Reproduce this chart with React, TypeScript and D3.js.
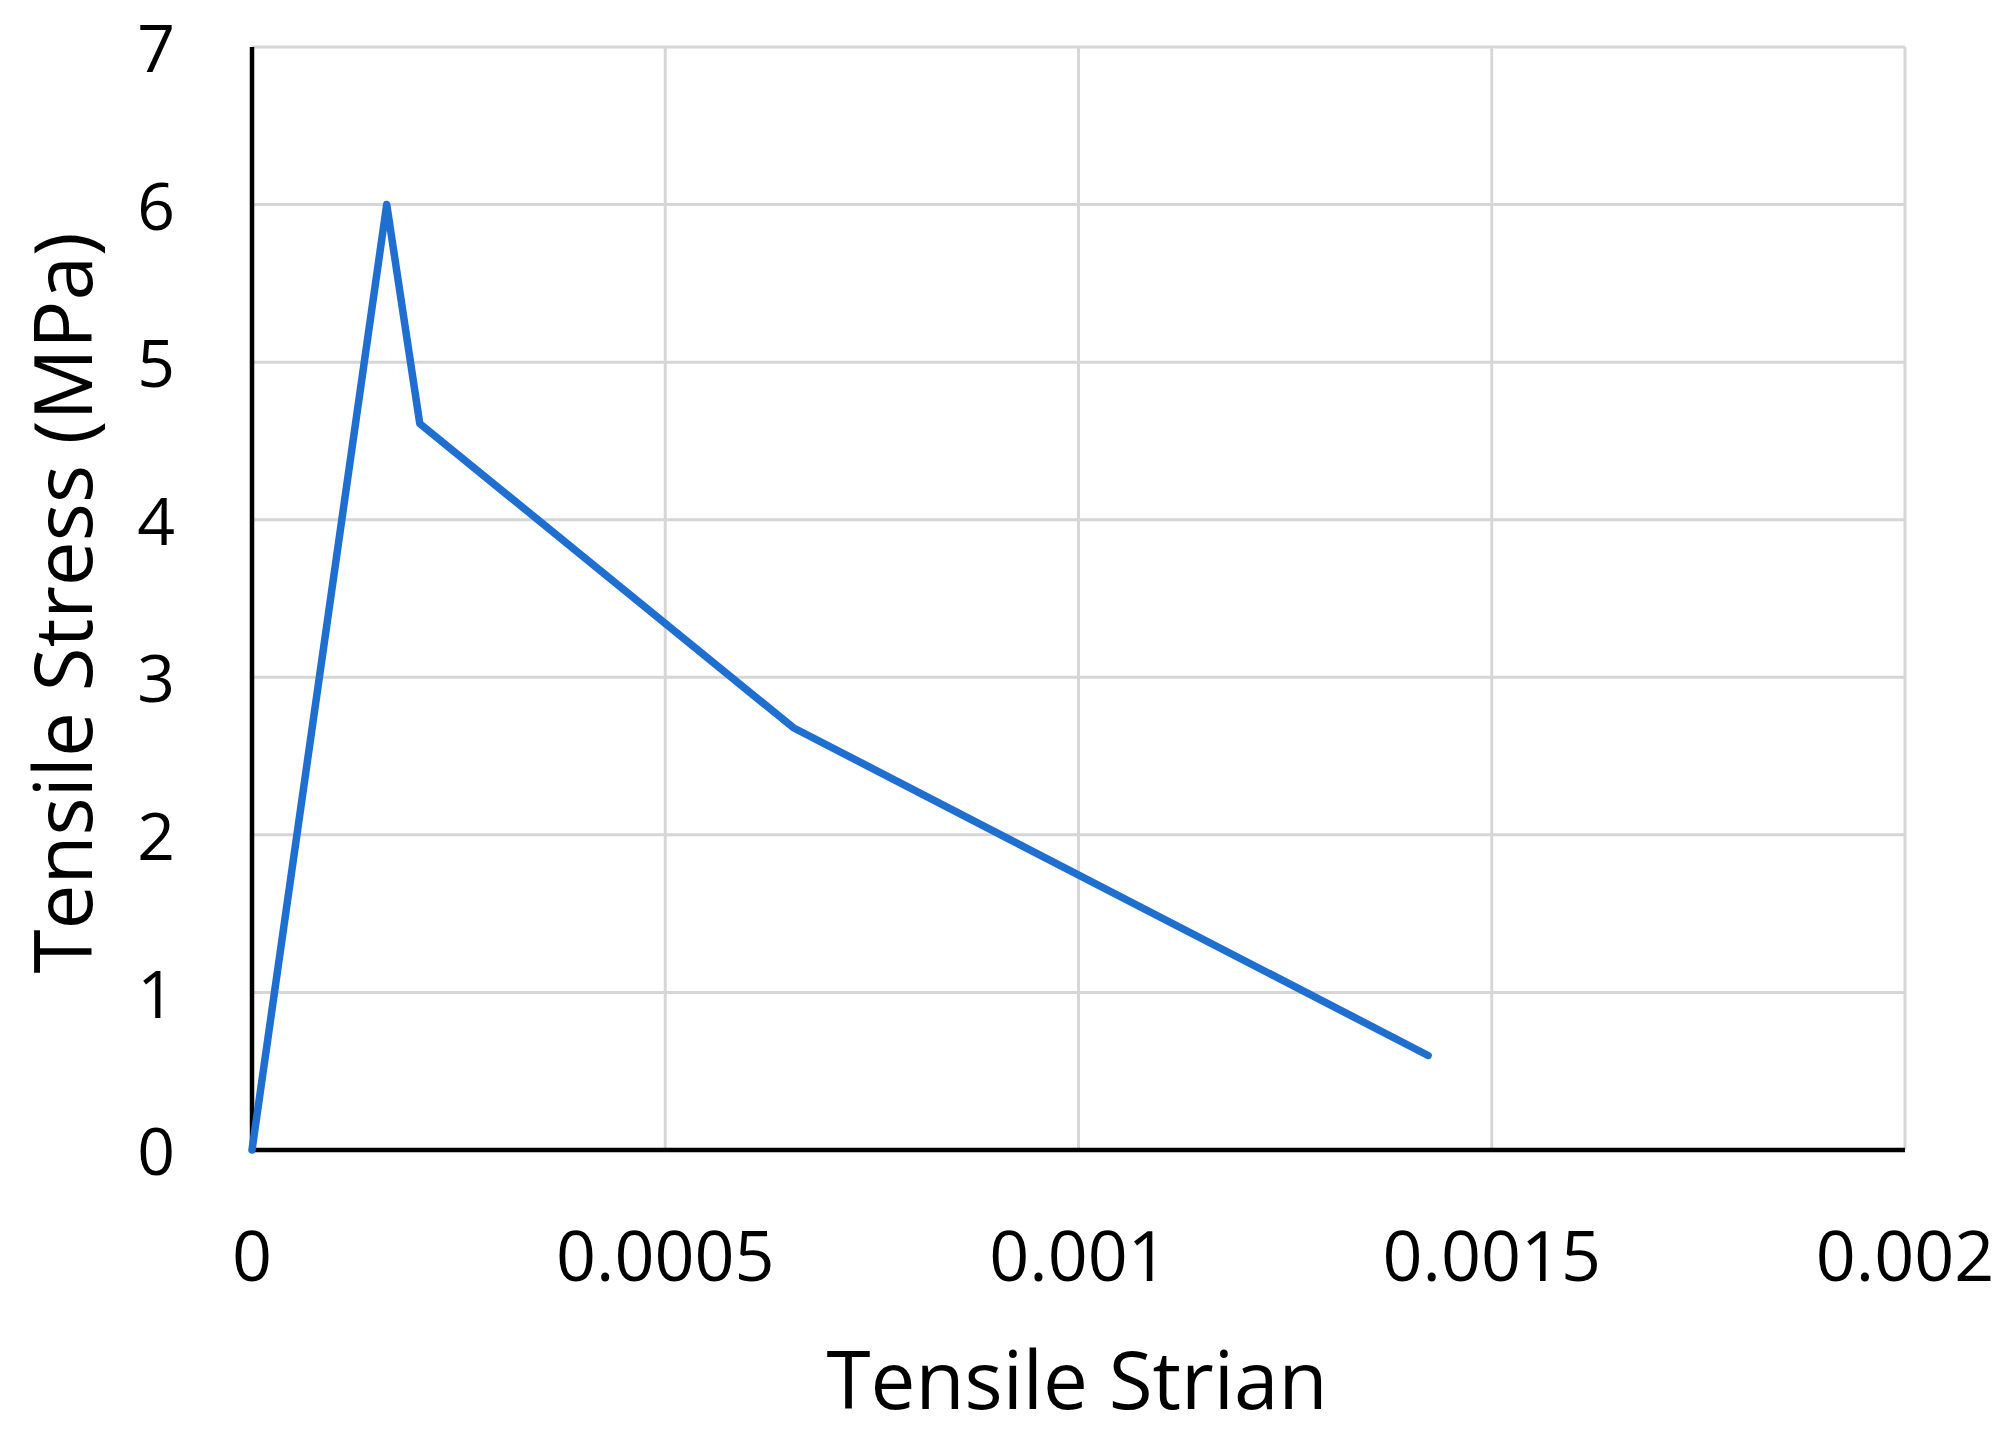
import React, { useRef, useEffect } from 'react';
import * as d3 from 'd3';

const strain = [0, 0.000163, 0.000203, 0.000655, 0.001423];
const stress = [0, 6, 4.61, 2.68, 0.6];
const xTicks = [0, 0.0005, 0.001, 0.0015, 0.002];
const xTickLabels = ['0', '0.0005', '0.001', '0.0015', '0.002'];
const yTicks = [0, 1, 2, 3, 4, 5, 6, 7];

const W = 2011;
const H = 1440;
const FONT = '"Open Sans", "Noto Sans", sans-serif';

const draw = (svgRef) => {
  const margin = { left: 252, right: 2011 - 1905, top: 47, bottom: 1440 - 1150 };
  const svg = d3.select(svgRef.current);
  svg.selectAll('*').remove();

  const x = d3.scaleLinear().domain([0, 0.002]).range([margin.left, W - margin.right]);
  const y = d3.scaleLinear().domain([0, 7]).range([H - margin.bottom, margin.top]);

  // gridlines
  const grid = svg.append('g').attr('stroke', '#d6d6d6').attr('stroke-width', 3);
  grid
    .selectAll('line.h')
    .data(yTicks.slice(1))
    .enter()
    .append('line')
    .attr('x1', x(0))
    .attr('x2', x(0.002))
    .attr('y1', (d) => y(d))
    .attr('y2', (d) => y(d));
  grid
    .selectAll('line.v')
    .data(xTicks.slice(1))
    .enter()
    .append('line')
    .attr('x1', (d) => x(d))
    .attr('x2', (d) => x(d))
    .attr('y1', y(0))
    .attr('y2', y(7));

  // axis lines
  svg
    .append('line')
    .attr('x1', x(0))
    .attr('x2', x(0.002))
    .attr('y1', y(0))
    .attr('y2', y(0))
    .attr('stroke', '#000')
    .attr('stroke-width', 4.5);
  svg
    .append('line')
    .attr('x1', x(0))
    .attr('x2', x(0))
    .attr('y1', y(0))
    .attr('y2', y(7))
    .attr('stroke', '#000')
    .attr('stroke-width', 4.5);

  // tick labels
  svg
    .selectAll('text.ylab')
    .data(yTicks)
    .enter()
    .append('text')
    .attr('x', 175)
    .attr('y', (d) => y(d))
    .attr('dy', '0.38em')
    .attr('text-anchor', 'end')
    .style('font-family', FONT)
    .style('font-size', '66px')
    .text((d) => d);

  svg
    .selectAll('text.xlab')
    .data(xTicks)
    .enter()
    .append('text')
    .attr('x', (d) => x(d))
    .attr('y', 1281)
    .attr('text-anchor', 'middle')
    .style('font-family', FONT)
    .style('font-size', '70px')
    .text((d, i) => xTickLabels[i]);

  // axis titles
  svg
    .append('text')
    .attr('x', 1077)
    .attr('y', 1409)
    .attr('text-anchor', 'middle')
    .style('font-family', FONT)
    .style('font-size', '80px')
    .text('Tensile Strian');

  svg
    .append('text')
    .attr('transform', 'translate(92,603) rotate(-90)')
    .attr('text-anchor', 'middle')
    .style('font-family', FONT)
    .style('font-size', '80px')
    .text('Tensile Stress (MPa)');

  // series
  const line = d3
    .line()
    .x((d) => x(d[0]))
    .y((d) => y(d[1]));
  svg
    .append('path')
    .datum(strain.map((s, i) => [s, stress[i]]))
    .attr('d', line)
    .attr('fill', 'none')
    .attr('stroke', '#1f6fd1')
    .attr('stroke-width', 7.5)
    .attr('stroke-linejoin', 'round')
    .attr('stroke-linecap', 'round');
};

export default function App() {
  const d3Container = useRef(null);

  useEffect(() => {
    document.body.style.margin = '0';
    if (d3Container.current) draw(d3Container);
  }, []);

  return (
    <svg
      ref={d3Container}
      width={W}
      height={H}
      style={{ display: 'block', background: '#fff' }}
    />
  );
}
